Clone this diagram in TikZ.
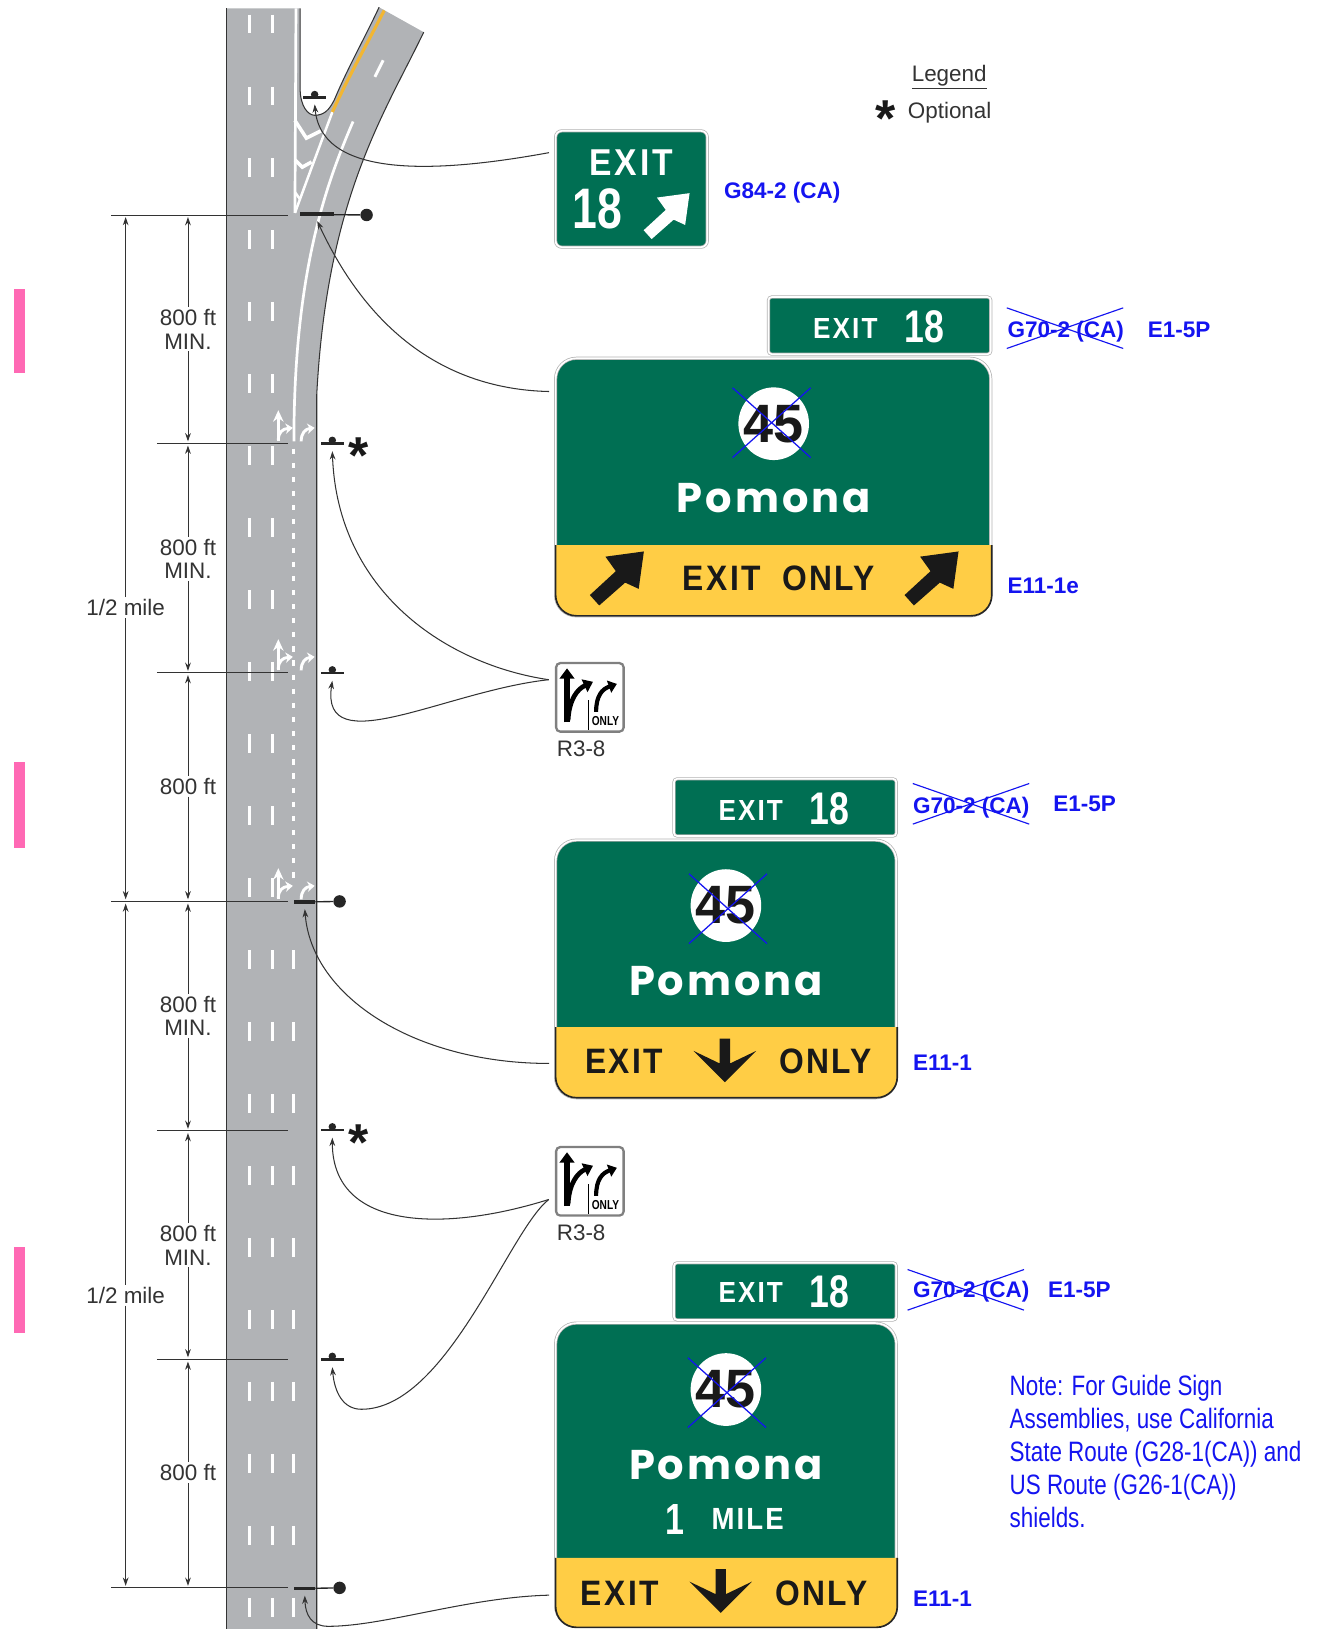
\documentclass[tikz,border=0pt]{standalone}
\usepackage{fontspec}
\setmainfont{Liberation Sans}
\newfontfamily\hwyfont[FakeStretch=0.9,LetterSpace=7]{Liberation Sans}
\newfontfamily\numfont[FakeStretch=0.78]{Liberation Sans}
\newfontfamily\shieldfont{Liberation Sans}
\newfontfamily\pomfont[LetterSpace=7]{Poppins}
\newfontfamily\notefont[FakeStretch=0.8]{Liberation Sans}
\usetikzlibrary{shapes.geometric,shapes.misc,arrows.meta}

\newcommand{\sz}[1]{\fontsize{#1}{#1}\selectfont}
\definecolor{roadgray}{HTML}{B1B3B6}
\definecolor{guidegreen}{HTML}{006F53}
\definecolor{exityellow}{HTML}{FFCD45}
\definecolor{laneyellow}{HTML}{F2B632}
\definecolor{codeblue}{HTML}{1414F0}
\definecolor{inkgray}{HTML}{333333}
\definecolor{flagpink}{HTML}{FF69B4}

\tikzset{
  label text/.style={text=inkgray,font=\sz{21.6},align=center,inner sep=2pt},
  dimline/.style={-{Stealth[length=8pt,width=5.5pt]},draw=inkgray,line width=.9,shorten >=2pt},
  tickline/.style={draw=inkgray,line width=.9},
  leader/.style={-{Stealth[length=8pt,width=5.5pt]},draw=inkgray,line width=1},
  lanemark/.style={draw=white,line width=2.8},
  pave/.style={draw=white,line width=2.8},
  codetext/.style={text=codeblue,font=\sz{21.7}\bfseries,anchor=west,inner sep=0},
  struck/.style={cross out,draw=codeblue,line width=1.1,inner sep=0,minimum width=111,minimum height=38},
  panel/.style={draw=gray!60,line width=.7,double=white,double distance=1.6,fill=guidegreen,inner sep=0},
  plaque/.style={panel,rounded corners=3,minimum width=214,minimum height=55},
  guide/.style={panel,rounded corners=20},
  band/.style={fill=exityellow,draw=black!85,line width=1.6,rounded corners=20},
  shield/.style={ellipse,fill=white,inner sep=0,minimum width=68,minimum height=70},
  shieldnum/.style={font=\shieldfont\bfseries\sz{52},text=black!90,inner sep=0},
  shieldx/.style={cross out,draw=codeblue,line width=1.2,inner sep=0,minimum width=74,minimum height=66},
  pomona/.style={text=white,font=\pomfont\bfseries\sz{40},inner sep=0},
  signword/.style={font=\hwyfont\bfseries\sz{#1},inner sep=0},
  signword/.default=34,
  signnum/.style={text=white,font=\numfont\bfseries\sz{#1},inner sep=0},
  postbar/.style={fill=black!85,inner sep=0,minimum width=22,minimum height=2.6},
  mastbar/.style={fill=black!85,inner sep=0,minimum height=3.4},
  mastdot/.style={circle,fill=black!85,inner sep=0,minimum size=12},
  regsign/.style={draw=gray,line width=2.2,fill=white,rounded corners=4,minimum width=65,minimum height=66,inner sep=0},
  optmark/.style={font=\bfseries\sz{50},text=black!90,inner sep=0}
}

% slanted arrow given by its tip
\newcommand{\slantarrow}[4]{%
  \fill[#3,shift={(#1,#2)},scale=#4] (0,0) -- (-37,5) -- (-27,19) -- (-52,42) -- (-43,52) -- (-18,30) -- (-5,36) -- cycle;}
% down arrow given by its top
\newcommand{\dropmark}[3]{%
  \fill[#3,shift={(#1,#2)}] (-5,0) -- (5,0) -- (5,24) -- (30,12) -- (0,42) -- (-30,12) -- (-5,24) -- cycle;}

\begin{document}
\begin{tikzpicture}[x=1pt,y=-1pt]
\useasboundingbox (0,0) rectangle (1273,1568.6);

% pink flags
\foreach \ya/\yb in {278/359,734/817,1201/1284}
  \fill[flagpink] (13,\ya) rectangle (24,\yb);

% road
\fill[roadgray] (218,8) -- (289,8) -- (289,85) .. controls (289,103) and (297,111) .. (303,111)
    .. controls (312,111) and (317,106) .. (322,96) .. controls (335,65) and (352,35) .. (365,7)
    -- (408,31) .. controls (370,110) and (315,190) .. (305,380) -- (305,1568.6) -- (218,1568.6) -- cycle;
\draw[inkgray,line width=1] (218,8) -- (218,1568.6);
\draw[inkgray,line width=1] (289,8) -- (289,85) .. controls (289,103) and (297,111) .. (303,111)
    .. controls (312,111) and (317,106) .. (322,96) .. controls (335,65) and (352,35) .. (365,7);
\draw[inkgray,line width=1] (408,31) .. controls (370,110) and (315,190) .. (305,380) -- (305,1568.6);

% lane lines
\foreach \k in {0,...,22} {
  \draw[lanemark] (240,{14+69.3*\k}) -- ++(0,18);
  \draw[lanemark] (262,{14+69.3*\k}) -- ++(0,18);
}
\foreach \k in {13,...,22}
  \draw[lanemark] (283,{14+69.3*\k}) -- ++(0,18);
\draw[lanemark] (369,58) -- (361,74);
\draw[laneyellow,line width=3] (320,108) .. controls (335,75) and (352,45) .. (370,10);
\draw[white,line width=2.6] (285,8) -- (284,205);
\draw[white,line width=2.4] (320,108) .. controls (308,140) and (295,175) .. (284,205);
\draw[white,line width=3.4] (284,116) -- (295,133) -- (309,126);
\draw[white,line width=3.4] (284,154) -- (291,161) -- (300,156);
\draw[white,line width=2.4] (284,185) -- (289,192);
\draw[white,line width=2.6] (340,117) .. controls (315,175) and (283,260) .. (283,425);
\draw[white,line width=3,dash pattern=on 5pt off 8.6pt] (283,432) -- (283,850);
\foreach \dy in {0,220.5,441} {
  \begin{scope}[shift={(0,\dy)}]
    \draw[pave,-{Stealth[length=11pt,width=10pt]}] (268,425) -- (268,395);
    \draw[pave,-{Stealth[length=7pt,width=10pt]}] (268,424) .. controls (268,416) and (272,413) .. (282,412);
    \draw[pave,-{Stealth[length=7pt,width=10pt]}] (290,425) .. controls (290,417) and (294,413) .. (303,412);
  \end{scope}
}

% distance marks
\foreach \n/\y/\xa in {0/207/107,1/427/151,2/648/151,3/868/107,4/1089/151,5/1309/151,6/1529/107} {
  \coordinate (tick\n) at (\xa,\y);
  \coordinate (tickend\n) at (277,\y);
  \coordinate (inner\n) at (181,\y);
  \coordinate (outer\n) at (121,\y);
  \draw[tickline] (tick\n) -- (tickend\n);
}
\foreach \n/\m/\k/\y/\txt in {0/1/1/317/{800 ft\\[1pt]MIN.},1/2/2/538/{800 ft\\[1pt]MIN.},2/3/3/757/{800 ft},
    3/4/4/978/{800 ft\\[1pt]MIN.},4/5/5/1199/{800 ft\\[1pt]MIN.},5/6/6/1418/{800 ft}} {
  \node[label text] (len\k) at (181,\y) {\txt};
  \draw[dimline] (len\k) -- (inner\n);
  \draw[dimline] (len\k) -- (inner\m);
}
\foreach \n/\m/\k/\y in {0/3/1/585,3/6/2/1247} {
  \node[label text] (half\k) at (121,\y) {1/2 mile};
  \draw[dimline] (half\k) -- (outer\n);
  \draw[dimline] (half\k) -- (outer\m);
}

% sign supports
\foreach \n/\x/\y in {a/303/94,b/320/427,c/320/648,d/320/1088,e/320/1309} {
  \node[postbar] (post\n) at (\x,\y) {};
  \fill[black!85] (\x,\y-3) circle (3.6);
}
\node[mastbar,minimum width=33] (masta) at (305.5,206) {};
\node[mastdot] (dota) at (353,207) {};
\draw[line width=1.3,black!85] (289,206.5) -- (dota);
\node[mastbar,minimum width=20] (mastb) at (293.5,868.5) {};
\node[mastdot] (dotb) at (327,868) {};
\draw[line width=1.3,black!85] (mastb) -- (dotb);
\node[mastbar,minimum width=20] (mastc) at (293.5,1529.5) {};
\node[mastdot] (dotc) at (327,1529) {};
\draw[line width=1.3,black!85] (mastc) -- (dotc);
\node[optmark] (optb) at (345,439) {*};
\node[optmark] (optd) at (345,1100) {*};

% first exit sign
\node[panel,rounded corners=6,minimum width=146,minimum height=112] (exitsign) at (608,182) {};
\node[signword=36,text=white] (exitword) at (608,157) {E\hspace{3pt}X\hspace{3pt}I\hspace{3pt}T};
\node[signnum=55] (exitnum) at (575,201) {18};
\slantarrow{664}{186}{white}{.85}
\node[codetext] (codea) at (697,186) {G84-2 (CA)};

% guide sign one
\node[plaque] (plaquea) at (847,313.5) {};
\node[signword=28,text=white] (plaqueaword) at (814,316) {EXIT};
\node[signnum=44] (plaqueanum) at (890,315) {18};
\node[codetext] (oldcodea) at (970,319) {G70-2 (CA)};
\node[struck] (oldxa) at (1025.5,316) {};
\node[codetext] (codeb) at (1105,318) {E1-5P};
\node[guide,minimum width=419,minimum height=248] (guidea) at (744.5,469) {};
\draw[band] (535,525) -- (535,593) -- (955,593) -- (955,525);
\node[shield] (shielda) at (745,408) {};
\node[shieldnum] (numa) at (745,408) {45};
\node[shieldx] (shieldxa) at (743,407) {};
\node[pomona] (namea) at (745,480) {Pomona};
\node[signword,text=black!90] (onlya) at (750,557) {EXIT\hspace{.6em}ONLY};
\slantarrow{620}{531}{black!90}{1}
\slantarrow{923}{531}{black!90}{1}
\node[codetext] (codec) at (970,564) {E11-1e};

% guide sign two
\node[plaque] (plaqueb) at (756,777.5) {};
\node[signword=28,text=white] (plaquebword) at (723,780) {EXIT};
\node[signnum=44] (plaquebnum) at (799,779) {18};
\node[codetext] (oldcodeb) at (879,778) {G70-2 (CA)};
\node[struck] (oldxb) at (935,774) {};
\node[codetext] (coded) at (1014,774) {E1-5P};
\node[guide,minimum width=328,minimum height=248] (guideb) at (699,933) {};
\draw[band] (535,989) -- (535,1057) -- (864,1057) -- (864,989);
\node[shield] (shieldb) at (699,872) {};
\node[shieldnum] (numb) at (699,872) {45};
\node[shieldx] (shieldxb) at (701,875) {};
\node[pomona] (nameb) at (699,945) {Pomona};
\node[signword,text=black!90] (exitb) at (601,1022) {EXIT};
\node[signword,text=black!90] (onlyb) at (795,1022) {ONLY};
\dropmark{698}{1000}{black!90}
\node[codetext] (codee) at (879,1023) {E11-1};

% guide sign three
\node[plaque] (plaquec) at (756,1243.5) {};
\node[signword=28,text=white] (plaquecword) at (723,1245) {EXIT};
\node[signnum=44] (plaquecnum) at (799,1244) {18};
\node[codetext] (oldcodec) at (879,1244) {G70-2 (CA)};
\node[struck] (oldxc) at (930,1242) {};
\node[codetext] (codef) at (1009,1242) {E1-5P};
\node[guide,minimum width=328,minimum height=292] (guidec) at (699,1420) {};
\draw[band] (535,1500) -- (535,1567) -- (864,1567) -- (864,1500);
\node[shield] (shieldc) at (699,1338) {};
\node[shieldnum] (numc) at (699,1338) {45};
\node[shieldx] (shieldxc) at (700,1341) {};
\node[pomona] (namec) at (699,1411) {Pomona};
\node[signnum=42] (milenum) at (650,1463) {1};
\node[signword=29.5,text=white] (mileword) at (720,1463) {MILE};
\node[signword,text=black!90] (exitc) at (597,1534) {EXIT};
\node[signword,text=black!90] (onlyc) at (791,1534) {ONLY};
\dropmark{694}{1511}{black!90}
\node[codetext] (codeg) at (879,1539) {E11-1};

% lane use signs
\foreach \n/\y in {a/671.5,b/1137.5} {
  \node[regsign] (reg\n) at (568,\y) {};
  \begin{scope}[shift={(568,\y)}]
    \draw[black,line width=5,-{Triangle[length=10pt,width=14pt]}] (-22,24) -- (-22,-28);
    \draw[black,line width=4.5,-{Triangle[length=9pt,width=13pt]}] (-21,22) .. controls (-20,2) and (-12,-8) .. (3,-15);
    \draw[black,line width=4,-{Triangle[length=8pt,width=12pt]}] (6,14) .. controls (6,-2) and (12,-8) .. (26,-13);
    \draw[black,line width=1.2] (-1.5,3) -- (-1.5,31);
  \end{scope}
  \node[font=\numfont\bfseries\sz{12.5},inner sep=0] (regonly\n) at (583,\y+22.5) {ONLY};
  \node[label text,anchor=west,inner sep=1pt] (regcode\n) at (535,\y+49.5) {R3-8};
}

% leaders
\draw[leader] ([xshift=-6pt,yshift=35pt]exitsign.west) .. controls (430,165) and (310,175) .. ([yshift=-5pt]posta.south);
\draw[leader] ([xshift=-6pt,yshift=92pt]guidea.west) .. controls (440,375) and (360,330) .. ([yshift=-5pt]masta.south);
\draw[leader] ([xshift=-6pt,yshift=17pt]rega.west) .. controls (430,640) and (325,570) .. ([yshift=-6pt]postb.south);
\draw[leader] ([xshift=-6pt,yshift=17pt]rega.west) .. controls (430,665) and (308,735) .. ([yshift=-6pt]postc.south);
\draw[leader] ([xshift=-6pt,yshift=-91pt]guideb.west) .. controls (400,1024) and (300,960) .. ([yshift=-5pt]mastb.south);
\draw[leader] ([xshift=-6pt,yshift=-17.5pt]regb.west) .. controls (430,1186) and (320,1186) .. ([yshift=-6pt]postd.south);
\draw[leader] ([xshift=-6pt,yshift=-17.5pt]regb.west) .. controls (490,1185) and (430,1357) .. (348,1357)
    .. controls (330,1357) and (322,1340) .. ([yshift=-6pt]poste.south);
\draw[leader] ([xshift=-6pt,yshift=-116pt]guidec.west) .. controls (450,1538) and (370,1566) .. (316,1566)
    .. controls (300,1566) and (294,1555) .. ([yshift=-5pt]mastc.south);

% legend
\node[label text,inner sep=3pt] (legendword) at (914,73) {Legend};
\draw[inkgray,line width=1] (878,85) -- (950,85);
\node[optmark] (legendmark) at (853,114) {*};
\node[label text,anchor=west,inner sep=0] (legendopt) at (874,109) {Optional};

% note
\node[anchor=north west,align=left,text=codeblue,font=\notefont\fontsize{27}{31.8}\selectfont,inner sep=0] (note) at (972,1324)
  {Note: For Guide Sign\\Assemblies, use California\\State Route (G28-1(CA)) and\\US Route (G26-1(CA))\\shields.};
\end{tikzpicture}
\end{document}
